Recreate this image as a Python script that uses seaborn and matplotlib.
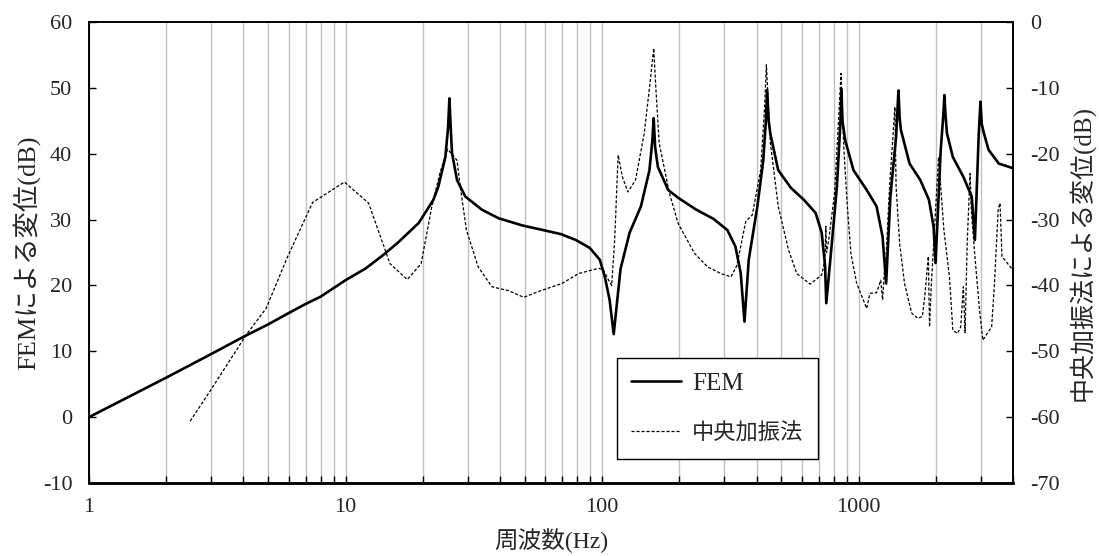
import numpy as np
import pandas as pd
import matplotlib
matplotlib.use("Agg")
import matplotlib.pyplot as plt
from matplotlib.ticker import FixedLocator, FuncFormatter, NullFormatter, LogLocator
import seaborn as sns

# ---- data ----
fem_freq = [1, 2, 3, 4, 5, 6, 7, 8, 10, 12, 14, 16, 19.3, 22, 23, 24.5, 25.1, 25.4, 25.7, 26,
            27.2, 29.3, 34, 39.5, 49, 59, 69, 79, 89.5, 98, 102.5, 107, 111, 118, 128, 141.7,
            153, 157, 158.9, 161, 165, 181, 198, 233, 272, 308, 331, 347, 359, 373, 403, 425,
            435, 440, 446, 453, 486, 545, 612, 680, 718, 740, 748, 780, 823, 850, 857, 865, 887,
            955, 1075, 1175, 1240, 1280, 1330, 1400, 1430, 1445, 1462, 1580, 1740, 1880, 1960,
            1995, 2090, 2140, 2160, 2180, 2210, 2330, 2560, 2760, 2840, 2940, 2985, 3020, 3080,
            3210, 3520, 4000]
fem_db = [0.0, 6.0, 9.6, 12.2, 14.1, 15.8, 17.2, 18.3, 20.8, 22.6, 24.6, 26.5, 29.5, 33.0, 35.0,
          39.5, 44.0, 48.4, 44.0, 40.1, 36.0, 33.5, 31.5, 30.2, 29.1, 28.4, 27.8, 26.9, 25.7, 23.9,
          21.3, 17.8, 12.6, 22.5, 28.0, 32.0, 37.5, 42.0, 45.4, 41.0, 38.0, 34.5, 33.3, 31.5, 30.1,
          28.4, 25.9, 21.9, 14.5, 23.9, 32.0, 39.0, 45.0, 49.7, 45.0, 43.0, 37.5, 34.8, 33.0, 31.0,
          28.0, 23.0, 17.3, 24.9, 35.0, 45.0, 49.8, 45.0, 42.0, 37.5, 34.5, 32.0, 27.4, 20.3, 33.5,
          42.6, 49.6, 45.5, 43.6, 38.5, 36.0, 33.0, 28.9, 23.4, 40.6, 46.0, 48.9, 46.0, 43.1, 39.5,
          36.5, 33.5, 26.9, 43.0, 47.9, 44.5, 43.1, 40.6, 38.5, 37.8]

exp_freq = [2.48, 2.98, 4.1, 4.9, 5.95, 7.44, 9.9, 12.3, 14.9, 17.4, 19.7, 21.7, 23.3, 25, 27.2,
            28, 29.6, 32.9, 37.2, 43.2, 49.5, 56.7, 69.8, 81, 96.7, 101, 106, 109, 112, 115.5,
            120, 126, 135, 146, 153, 159, 162, 167, 183, 198, 229, 258, 291, 318, 335, 347, 363,
            385, 415, 430, 437, 444, 453, 486, 533, 574, 647, 718, 740, 745, 750, 765, 806, 835,
            854, 875, 902, 933, 983, 1043, 1075, 1107, 1175, 1220, 1240, 1260, 1280, 1320, 1385,
            1400, 1445, 1510, 1610, 1700, 1773, 1810, 1870, 1890, 1920, 2050, 2090, 2150, 2260,
            2330, 2430, 2500, 2560, 2600, 2650, 2720, 2750, 2840, 2960, 3050, 3300, 3380, 3500,
            3560, 3620, 4000]
exp_db = [-60.6, -55.9, -47.5, -43.5, -35.6, -27.4, -24.3, -27.5, -36.7, -39.1, -36.7, -28.0,
          -23.0, -19.3, -21.0, -25.0, -31.6, -37.2, -40.2, -40.8, -41.8, -40.9, -39.7, -38.2,
          -37.4, -37.6, -39.2, -40.0, -33.0, -20.2, -23.5, -25.8, -24.0, -16.9, -10.0, -4.0,
          -10.0, -18.4, -26.0, -30.6, -35.1, -37.2, -38.2, -38.7, -37.0, -34.1, -30.3, -29.3,
          -22.5, -13.0, -6.5, -12.0, -18.4, -28.0, -34.6, -38.2, -39.8, -38.4, -36.0, -31.0,
          -35.0, -33.0, -26.0, -15.0, -7.8, -18.9, -27.5, -35.1, -39.7, -42.2, -43.5, -41.2,
          -41.1, -39.2, -42.2, -38.0, -35.6, -25.0, -12.9, -25.0, -33.6, -39.7, -44.2, -45.0,
          -44.7, -41.7, -35.6, -46.3, -40.0, -20.5, -25.0, -31.6, -38.7, -46.8, -47.3, -46.3,
          -40.2, -47.2, -33.6, -23.0, -28.5, -35.6, -43.7, -48.3, -46.3, -40.2, -28.5, -27.5,
          -35.6, -37.7]

x_major = [1, 10, 100, 1000]
left_ticks = [-10, 0, 10, 20, 30, 40, 50, 60]
right_ticks = [-70, -60, -50, -40, -30, -20, -10, 0]

fem_df = pd.DataFrame({"f": fem_freq, "v": fem_db})
exp_df = pd.DataFrame({"f": exp_freq, "v": exp_db})

sns.set_theme(style="white")
plt.rcParams["font.family"] = ["Liberation Serif", "Noto Sans CJK JP"]
plt.rcParams["axes.unicode_minus"] = False

fig, ax = plt.subplots(figsize=(10.99, 5.56), dpi=100)
fig.subplots_adjust(left=0.081, right=0.9218, bottom=0.1313, top=0.9604)
ax2 = ax.twinx()

sns.lineplot(data=fem_df, x="f", y="v", ax=ax, color="black", linewidth=1.9,
             sort=False, estimator=None, label="FEM")
sns.lineplot(data=exp_df, x="f", y="v", ax=ax2, color="black", linewidth=0.9,
             sort=False, estimator=None, label="中央加振法")
ax2.lines[0].set_dashes([2.5, 1.5])

for a in (ax, ax2):
    if a.get_legend() is not None:
        a.get_legend().remove()

ax.set_xscale("log")
ax.set_xlim(1, 4000)
ax.set_ylim(-10, 60)
ax2.set_ylim(-70, 0)
ax.xaxis.set_major_locator(FixedLocator(x_major))
ax.xaxis.set_major_formatter(FuncFormatter(lambda v, p: "%d" % v))
ax.xaxis.set_minor_locator(LogLocator(base=10, subs=np.arange(2, 10)))
ax.xaxis.set_minor_formatter(NullFormatter())
ax.set_yticks(left_ticks)
ax2.set_yticks(right_ticks)

ax.grid(False)
ax2.grid(False)
ax.grid(which="both", axis="x", color="#c0c0c0", linewidth=1.0)
ax.set_axisbelow(True)

ax.tick_params(axis="x", which="both", direction="in", length=5, width=1.0, color="black",
               labelsize=16, pad=11, bottom=True)
ax.tick_params(axis="y", direction="in", length=5, width=1.0, color="black",
               labelsize=16, pad=12, left=True)
ax2.tick_params(axis="y", direction="in", length=5, width=1.0, color="black",
                labelsize=16, pad=12, right=True)

for a in (ax, ax2):
    for s in a.spines.values():
        s.set_color("black")
        s.set_linewidth(1.2)
    a.spines["bottom"].set_linewidth(1.8)

ax.set_xlabel("周波数(Hz)", fontsize=17, labelpad=8)
ax.set_ylabel("FEMによる変位(dB)", fontsize=19, labelpad=2)
ax2.set_ylabel("中央加振法による変位(dB)", fontsize=18, labelpad=6)

h1, l1 = ax.get_legend_handles_labels()
h2, l2 = ax2.get_legend_handles_labels()
leg = ax2.legend(h1 + h2, l1 + l2, loc="upper left", bbox_to_anchor=(0.571, 0.271),
                 fontsize=17, frameon=True, fancybox=False, framealpha=1,
                 edgecolor="black", handlelength=2.1, handletextpad=0.47,
                 labelspacing=1.2, borderpad=0.62, borderaxespad=0)
leg.get_frame().set_linewidth(1.0)
leg.get_texts()[0].set_fontsize(18)
leg.get_texts()[1].set_fontsize(16)

fig.savefig("out.png", dpi=100)
